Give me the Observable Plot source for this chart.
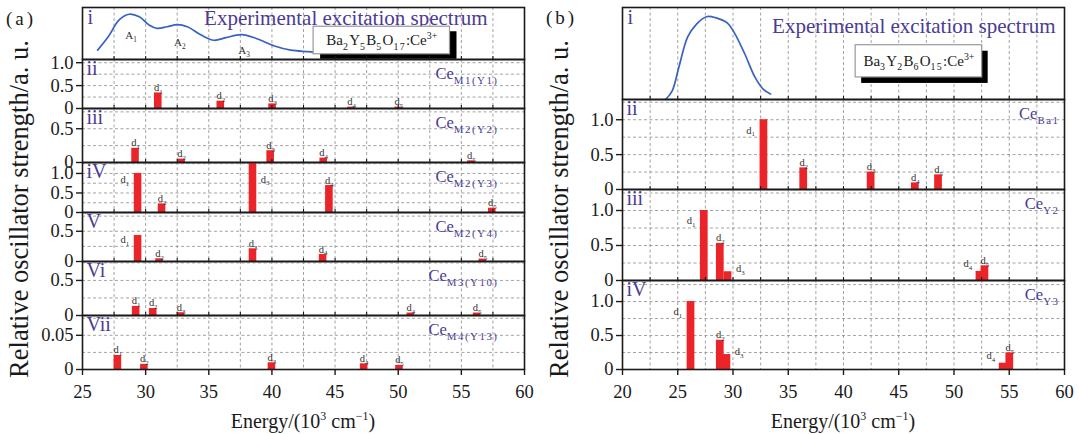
<!DOCTYPE html>
<html><head><meta charset="utf-8">
<script src="https://cdn.jsdelivr.net/npm/d3@7"></script>
<script src="https://cdn.jsdelivr.net/npm/@observablehq/plot@0.6"></script>
<style>
body{margin:0;background:#fff;}
#root{position:relative;width:1079px;height:434px;overflow:hidden;font-family:"Liberation Serif","DejaVu Serif",serif;color:#1a1a1a;}
.ov{position:absolute;white-space:nowrap;line-height:1;}
.ytitle{font-size:26.5px;transform:translate(-50%,-50%) rotate(-90deg);}
.xtitle{font-size:20px;transform:translateX(-50%);}
.xtitle sup{font-size:60%;vertical-align:0;position:relative;top:-0.65em;}
.plab{font-size:19px;letter-spacing:3px;}
</style></head><body><div id="root"></div>
<script>
// ================= DATA =================
// Panel (a): Ba2Y5B5O17:Ce3+
const xTicksA = [25, 30, 35, 40, 45, 50, 55, 60];
const gridXA = [27.5, 30, 32.5, 35, 37.5, 40, 42.5, 45, 47.5, 50, 52.5, 55, 57.5];
const specEnergyA = [26.2, 27.05, 27.9, 28.7, 29.5, 30.3, 30.9, 31.7, 32.5, 33.3, 34.4, 35.4, 36.35, 37.6, 38.8, 40.2, 41.5, 42.9, 43.7, 44.6];
const specValueA  = [0.18, 0.44, 0.76, 0.87, 0.82, 0.66, 0.60, 0.63, 0.67, 0.63, 0.47, 0.37, 0.42, 0.48, 0.40, 0.26, 0.18, 0.15, 0.13, 0.12];
const peakNamesA  = ["A_{1}", "A_{2}", "A_{3}"];
const peakEnergyA = [28.85, 32.7, 37.8];
const peakValueA  = [0.47, 0.32, 0.18];

const romanA = ["ii", "iii", "iV", "V", "Vi", "Vii"];
const siteA  = ["Ce_{M1(Y1)}", "Ce_{M2(Y2)}", "Ce_{M2(Y3)}", "Ce_{M2(Y4)}", "Ce_{M3(Y10)}", "Ce_{M4(Y13)}"];
const energyA2 = [31.0, 35.95, 40.05, 46.3, 50.05];
const strengthA2 = [0.34, 0.16, 0.10, 0.03, 0.03];
const placeA2 = ["t", "t", "t", "t", "t"];
const energyA3 = [29.2, 32.85, 39.9, 44.1, 55.8];
const strengthA3 = [0.21, 0.05, 0.175, 0.065, 0.025];
const placeA3 = ["t", "t", "t", "t", "t"];
const energyA4 = [29.4, 31.3, 38.5, 44.55, 57.45];
const strengthA4 = [1.0, 0.22, 1.28, 0.69, 0.11];
const placeA4 = ["l", "t", "r", "t", "t"];
const energyA5 = [29.4, 31.1, 38.5, 44.05, 56.7];
const strengthA5 = [0.43, 0.045, 0.21, 0.115, 0.04];
const placeA5 = ["l", "t", "t", "t", "t"];
const energyA6 = [29.25, 30.6, 32.8, 51.0, 56.25];
const strengthA6 = [0.13, 0.10, 0.04, 0.035, 0.035];
const placeA6 = ["t", "t", "t", "t", "t"];
const energyA7 = [27.8, 29.9, 40.0, 47.3, 50.1];
const strengthA7 = [0.0205, 0.0075, 0.0098, 0.0083, 0.006];
const placeA7 = ["t", "t", "t", "t", "t"];
const yTopA = [1.07, 0.8, 1.28, 0.81, 0.77, 0.079];
const yTicksA = [[0, 0.5, 1.0], [0, 0.5], [0, 0.5, 1.0], [0, 0.5], [0, 0.5], [0, 0.05]];
const gridYA = [[0.25, 0.5, 0.75, 1.0], [0.25, 0.5, 0.75], [0.25, 0.5, 0.75, 1.0, 1.25], [0.25, 0.5, 0.75], [0.25, 0.5, 0.75], [0.025, 0.05, 0.075]];

// Panel (b): Ba3Y2B6O15:Ce3+
const xTicksB = [20, 25, 30, 35, 40, 45, 50, 55, 60];
const gridXB = [22.5, 25, 27.5, 30, 32.5, 35, 37.5, 40, 42.5, 45, 47.5, 50, 52.5, 55, 57.5];
const specEnergyB = [23.9, 24.5, 25.1, 25.9, 26.7, 27.6, 28.4, 29.5, 30.1, 31.05, 32.0, 32.75, 33.4];
const specValueB  = [0.0, 0.095, 0.35, 0.68, 0.82, 0.90, 0.89, 0.83, 0.73, 0.50, 0.24, 0.11, 0.06];
const romanB = ["ii", "iii", "iV"];
const siteB  = ["Ce_{Ba1}", "Ce_{Y2}", "Ce_{Y3}"];
const energyB2 = [32.8, 36.4, 42.5, 46.5, 48.6];
const strengthB2 = [1.0, 0.31, 0.25, 0.095, 0.21];
const placeB2 = ["l", "t", "t", "t", "t"];
const energyB3 = [27.4, 28.85, 29.55, 52.35, 52.8];
const strengthB3 = [1.0, 0.53, 0.125, 0.13, 0.21];
const placeB3 = ["l", "t", "r", "tl", "t"];
const energyB4 = [26.2, 28.85, 29.45, 54.45, 55.05];
const strengthB4 = [1.0, 0.43, 0.22, 0.093, 0.245];
const placeB4 = ["l", "t", "r", "tl", "t"];
const yTopB = [1.29, 1.3, 1.31];
const yTicksB = [[0, 0.5, 1.0], [0, 0.5, 1.0], [0, 0.5, 1.0]];
const gridYB = [[0.25, 0.5, 0.75, 1.0, 1.25], [0.25, 0.5, 0.75, 1.0, 1.25], [0.25, 0.5, 0.75, 1.0, 1.25]];

const titleText = "Experimental excitation spectrum";
const formulaA = "Ba_{2}Y_{5}B_{5}O_{17}:Ce^{3+}";
const formulaB = "Ba_{3}Y_{2}B_{6}O_{15}:Ce^{3+}";

// ================= LAYOUT / STYLE =================
const RED = "#ea2428", PURPLE = "#4b3b94", BLUE = "#3762c4", GRID = "#8c8c8c", INK = "#1a1a1a";
const FONT = "'Liberation Serif','DejaVu Serif',serif";
const layoutA = {x0: 82, x1: 524, rows: [7, 59, 108, 162, 212, 261, 315, 369], xDomain: [25, 60], hw: 0.3, siteDx: -26};
const layoutB = {x0: 622, x1: 1064, rows: [7, 99, 189, 280, 369], xDomain: [20, 60], hw: 0.35, siteDx: -5};
const boxA = {x1: 43.3, x2: 54.1, y1: 0.1, y2: 0.63, sdx: 7, sdy: 5};
const boxB = {x1: 41.1, x2: 52.55, y1: 0.24, y2: 0.59, sdx: 6, sdy: 6};

const root = document.getElementById("root");

function richText(svg) {
  svg.querySelectorAll("text").forEach(t => {
    const s = t.textContent;
    if (!/[_^]\{/.test(s)) return;
    const fs = parseFloat(getComputedStyle(t).fontSize) || 12;
    const wide = fs >= 14;
    t.textContent = "";
    const re = /([_^])\{([^}]*)\}/g;
    let last = 0, m, shift = 0;
    const add = (txt, kind) => {
      if (!txt) return;
      const ts = document.createElementNS("http://www.w3.org/2000/svg", "tspan");
      const target = kind === "_" ? 0.28 * fs : kind === "^" ? -0.42 * fs : 0;
      ts.setAttribute("dy", (target - shift).toFixed(2));
      shift = target;
      if (kind) {
        ts.setAttribute("font-size", (0.66 * fs).toFixed(1));
        if (wide && kind === "_") ts.setAttribute("letter-spacing", (0.09 * fs).toFixed(1));
      }
      ts.textContent = txt;
      t.appendChild(ts);
    };
    while ((m = re.exec(s))) { add(s.slice(last, m.index), null); add(m[2], m[1]); last = re.lastIndex; }
    add(s.slice(last), null);
  });
}

function subPlot({x0, x1, top, bottom, xDomain, yTop, marks, mB = 8}) {
  const mL = 80, mR = 8, mT = 8;
  const svg = Plot.plot({
    width: x1 - x0 + mL + mR, height: bottom - top + mT + mB,
    marginLeft: mL, marginRight: mR, marginTop: mT, marginBottom: mB,
    x: {domain: xDomain, axis: null}, y: {domain: [0, yTop], axis: null},
    style: `position:absolute;left:${x0 - mL}px;top:${top - mT}px;background:transparent;overflow:visible;font-family:${FONT};font-size:18.5px;color:${INK};max-width:none;`,
    marks
  });
  root.appendChild(svg);
  richText(svg);
  return svg;
}

const gridStyle = {stroke: GRID, strokeOpacity: 1, strokeWidth: 0.8, strokeDasharray: "3,2.5"};

function barMarks(E, V, P, hw, yTop) {
  const idx = d3.range(E.length);
  const lab = i => `d_{${i + 1}}`;
  const by = p => idx.filter(i => P[i] === p);
  const ts = {fontSize: 10.5, fill: "#333", text: lab};
  return [
    Plot.rect(idx, {x1: i => E[i] - hw, x2: i => E[i] + hw, y1: 0, y2: i => V[i], fill: RED}),
    Plot.text(by("t"), {...ts, x: i => E[i], y: i => V[i], lineAnchor: "bottom", dy: -2}),
    Plot.text(by("l"), {...ts, x: i => E[i] - hw, y: i => V[i] * 0.85, textAnchor: "end", dx: -5}),
    Plot.text(by("tl"), {...ts, x: i => E[i] - hw, y: i => V[i], textAnchor: "end", lineAnchor: "bottom", dx: -4, dy: -4}),
    Plot.text(by("r"), {...ts, x: i => E[i] + hw, y: i => Math.min(V[i], 0.6 * yTop), textAnchor: "start", lineAnchor: "bottom", dx: 4})
  ];
}

function barPanel(L, k, {E, V, P, yTop, yTicks, gridY, roman, site, fmt, xTicks, gridX, last}) {
  const marks = [
    Plot.gridX({ticks: gridX, ...gridStyle}),
    Plot.gridY({ticks: gridY, ...gridStyle}),
    ...barMarks(E, V, P, L.hw, yTop),
    Plot.text([roman], {text: d => d, frameAnchor: "top-left", lineAnchor: "top", dx: 4, dy: 1, fontSize: 20, fill: PURPLE}),
    Plot.text([site], {text: d => d, frameAnchor: "top-right", lineAnchor: "top", dx: L.siteDx, dy: 8, fontSize: 16.5, fill: PURPLE}),
    Plot.frame({stroke: INK, strokeWidth: 1.6}),
    Plot.axisY({ticks: yTicks, tickFormat: fmt, tickSize: 6, tickPadding: 3, strokeWidth: 1.4, label: null}),
    Plot.axisX({anchor: "top", ticks: gridX, tickSize: 4, tickFormat: () => "", strokeWidth: 1.1, label: null})
  ];
  if (last) marks.push(Plot.axisX({anchor: "bottom", ticks: xTicks, tickSize: 6, tickPadding: 9, strokeWidth: 1.4, label: null}));
  subPlot({x0: L.x0, x1: L.x1, top: L.rows[k], bottom: L.rows[k + 1], xDomain: L.xDomain, yTop, marks, mB: last ? 40 : 8});
}

function specPanel(L, {E, V, gridX, peaks, titleDx, titleDy, box, formula}) {
  const idx = d3.range(E.length);
  const marks = [
    Plot.gridX({ticks: gridX, ...gridStyle}),
    Plot.line(idx, {x: i => E[i], y: i => V[i], stroke: BLUE, strokeWidth: 1.7, curve: "catmull-rom"})
  ];
  if (peaks) marks.push(Plot.text(d3.range(peaks.names.length), {x: i => peaks.e[i], y: i => peaks.v[i], text: i => peaks.names[i], fontSize: 11, fill: "#333"}));
  marks.push(
    Plot.text([titleText], {text: d => d, frameAnchor: "top-right", lineAnchor: "top", dx: titleDx, dy: titleDy, fontSize: 21, fill: PURPLE}),
    Plot.rect([box], {x1: "x1", x2: "x2", y1: "y1", y2: "y2", fill: "#000", dx: box.sdx, dy: box.sdy}),
    Plot.rect([box], {x1: "x1", x2: "x2", y1: "y1", y2: "y2", fill: "#fff", stroke: "#999", strokeWidth: 1.2}),
    Plot.text([formula], {text: d => d, x: (box.x1 + box.x2) / 2, y: (box.y1 + box.y2) / 2, fontSize: 15, fill: INK}),
    Plot.text(["i"], {text: d => d, frameAnchor: "top-left", lineAnchor: "top", dx: 5, dy: 2, fontSize: 20, fill: PURPLE}),
    Plot.frame({stroke: INK, strokeWidth: 1.6})
  );
  subPlot({x0: L.x0, x1: L.x1, top: L.rows[0], bottom: L.rows[1], xDomain: L.xDomain, yTop: 1, marks});
}

const fmt1 = d => d === 0 ? "0" : d.toFixed(1);
const fmt2 = d => d === 0 ? "0" : d.toFixed(2);

// ---- Panel (a) ----
specPanel(layoutA, {E: specEnergyA, V: specValueA, gridX: gridXA, peaks: {names: peakNamesA, e: peakEnergyA, v: peakValueA}, titleDx: -37, titleDy: 3, box: boxA, formula: formulaA});
const barsA = [
  [energyA2, strengthA2, placeA2], [energyA3, strengthA3, placeA3], [energyA4, strengthA4, placeA4],
  [energyA5, strengthA5, placeA5], [energyA6, strengthA6, placeA6], [energyA7, strengthA7, placeA7]
];
barsA.forEach(([E, V, P], j) => barPanel(layoutA, j + 1, {
  E, V, P, yTop: yTopA[j], yTicks: yTicksA[j], gridY: gridYA[j], roman: romanA[j], site: siteA[j],
  fmt: j === 5 ? fmt2 : fmt1, xTicks: xTicksA, gridX: gridXA, last: j === barsA.length - 1
}));

// ---- Panel (b) ----
specPanel(layoutB, {E: specEnergyB, V: specValueB, gridX: gridXB, peaks: null, titleDx: -9, titleDy: 11, box: boxB, formula: formulaB});
const barsB = [[energyB2, strengthB2, placeB2], [energyB3, strengthB3, placeB3], [energyB4, strengthB4, placeB4]];
barsB.forEach(([E, V, P], j) => barPanel(layoutB, j + 1, {
  E, V, P, yTop: yTopB[j], yTicks: yTicksB[j], gridY: gridYB[j], roman: romanB[j], site: siteB[j],
  fmt: fmt1, xTicks: xTicksB, gridX: gridXB, last: j === barsB.length - 1
}));

// ---- Titles (HTML text) ----
function ov(html, cls, left, top) {
  const d = document.createElement("div");
  d.className = "ov " + cls; d.innerHTML = html;
  d.style.left = left + "px"; d.style.top = top + "px";
  root.appendChild(d);
}
ov("(a)", "plab", 6, 9);
ov("(b)", "plab", 546, 8);
ov("Relative oscillator strength/a. u.", "ytitle", 19, 209);
ov("Relative oscillator strength/a. u.", "ytitle", 559, 209);
ov("Energy/(10<sup>3</sup> cm<sup>−1</sup>)", "xtitle", 303, 411);
ov("Energy/(10<sup>3</sup> cm<sup>−1</sup>)", "xtitle", 843, 411);
</script></body></html>
